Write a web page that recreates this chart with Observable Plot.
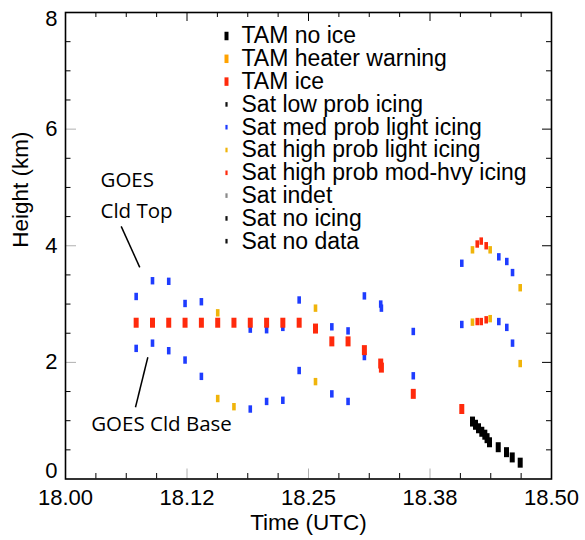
<!DOCTYPE html>
<html>
<head>
<meta charset="utf-8">
<script src="https://cdn.jsdelivr.net/npm/d3@7"></script>
<script src="https://cdn.jsdelivr.net/npm/@observablehq/plot@0.6"></script>
<style>
  html, body { margin: 0; padding: 0; background: #fff; }
  #chart svg { display: block; }
</style>
</head>
<body>
<div id="chart"></div>
<script>
// ---------- Data ----------
// TAM (aircraft) observations: time (UTC hours), height (km), state
const tamTime = [18.0727, 18.0895, 18.1062, 18.1230, 18.1398, 18.1566, 18.1733, 18.1901, 18.2069, 18.2236,
                 18.2404, 18.2572, 18.2740, 18.2907, 18.3075, 18.3243, 18.3250, 18.3578, 18.4077,
                 18.4187, 18.4218, 18.4249, 18.4283, 18.4314, 18.4337, 18.4362, 18.4452, 18.4537, 18.4596, 18.4678];
const tamHeight = [2.68, 2.68, 2.68, 2.68, 2.68, 2.68, 2.68, 2.68, 2.68, 2.68,
                   2.68, 2.58, 2.36, 2.36, 2.21, 1.98, 1.91, 1.46, 1.20,
                   0.985, 0.93, 0.87, 0.81, 0.76, 0.70, 0.63, 0.545, 0.46, 0.37, 0.28];
const tamState = ["ice", "ice", "ice", "ice", "ice", "ice", "ice", "ice", "ice", "ice",
                  "ice", "ice", "ice", "ice", "ice", "ice", "ice", "ice", "ice",
                  "noice", "noice", "noice", "noice", "noice", "noice", "noice", "noice", "noice", "noice", "noice"];

// GOES cloud top
const satTopTime = [18.0727, 18.0895, 18.1062, 18.1230, 18.1398, 18.1566, 18.1901, 18.2069, 18.2236, 18.2404,
                    18.2572, 18.2740, 18.2907, 18.3075, 18.3243, 18.3250, 18.3578, 18.4077, 18.4187, 18.4236,
                    18.4277, 18.4328, 18.4369, 18.4458, 18.4540, 18.4599, 18.4678];
const satTopHeight = [3.13, 3.40, 3.39, 3.01, 3.04, 2.85, 2.57, 2.56, 2.60, 3.07,
                      2.93, 2.61, 2.54, 3.14, 3.00, 2.93, 2.53, 3.70, 3.93, 4.03,
                      4.08, 4.00, 3.93, 3.81, 3.73, 3.54, 3.28];
const satTopClass = ["med", "med", "med", "med", "med", "hiLight", "med", "med", "med", "med",
                     "hiLight", "med", "med", "med", "med", "med", "med", "med", "hiLight", "hiMod",
                     "hiMod", "hiMod", "hiLight", "med", "med", "med", "hiLight"];

// GOES cloud base
const satBaseTime = [18.0727, 18.0895, 18.1062, 18.1230, 18.1398, 18.1566, 18.1733, 18.1901, 18.2069, 18.2236,
                     18.2404, 18.2572, 18.2740, 18.2907, 18.3075, 18.3578, 18.4077, 18.4187, 18.4236, 18.4277,
                     18.4328, 18.4369, 18.4458, 18.4540, 18.4599, 18.4678];
const satBaseHeight = [2.24, 2.33, 2.20, 2.04, 1.76, 1.38, 1.24, 1.20, 1.33, 1.35,
                       1.86, 1.67, 1.46, 1.33, 2.10, 1.77, 2.65, 2.69, 2.70, 2.70,
                       2.73, 2.75, 2.70, 2.60, 2.33, 1.98];
const satBaseClass = ["med", "med", "med", "med", "med", "hiLight", "hiLight", "med", "med", "med",
                      "med", "hiLight", "med", "med", "med", "med", "med", "hiLight", "hiMod", "hiMod",
                      "hiMod", "hiLight", "med", "med", "med", "hiLight"];

// Axis ticks and labels
const xMajorTicks = [18.0, 18.125, 18.25, 18.375, 18.5];
const xTickLabels = ["18.00", "18.12", "18.25", "18.38", "18.50"];
const yMajorTicks = [0, 2, 4, 6, 8];
const yTickLabels = ["0", "2", "4", "6", "8"];

// Legend
const legendLabels = ["TAM no ice", "TAM heater warning", "TAM ice", "Sat low prob icing",
  "Sat med prob light icing", "Sat high prob light icing", "Sat high prob mod-hvy icing",
  "Sat indet", "Sat no icing", "Sat no data"];
const legendKeys = ["noice", "heater", "ice", "low", "med", "hiLight", "hiMod", "indet", "none", "nodata"];
const legendGroup = ["tam", "tam", "tam", "sat", "sat", "sat", "sat", "sat", "sat", "sat"];

// ---------- Styles ----------
const colorOf = {
  noice: "#000000", heater: "#FFA200", ice: "#FF2A0C",
  low: "#111111", med: "#1E3CFF", hiLight: "#F0B40A", hiMod: "#FF2A0C",
  indet: "#8A8A8A", none: "#111111", nodata: "#111111"
};
function rectSymbol(w, h) {
  return { draw(ctx) { ctx.rect(-w / 2, -h / 2, w, h); } };
}
const tamSym = rectSymbol(5, 10);
const satSym = rectSymbol(3.6, 7.4);
const tamLegendSym = rectSymbol(4, 8.5);
const satLegendSym = rectSymbol(2.2, 4.6);

const tam = tamTime.map((t, i) => ({t, h: tamHeight[i], c: tamState[i]}));
const satTop = satTopTime.map((t, i) => ({t, h: satTopHeight[i], c: satTopClass[i]}));
const satBase = satBaseTime.map((t, i) => ({t, h: satBaseHeight[i], c: satBaseClass[i]}));

const xMinor = d3.range(1, 16).filter(k => k % 4 !== 0).map(k => 18 + k / 32);
const xMajorInner = xMajorTicks.slice(1, -1);
const yMinor = d3.range(1, 16).filter(k => k % 4 !== 0).map(k => k / 2);
const yMajorInner = yMajorTicks.slice(1, -1);

const F = "'Liberation Sans', Arial, Helvetica, sans-serif";
const A = "'Open Sans', 'Noto Sans', sans-serif";

const legendMarks = legendLabels.flatMap((label, i) => [
  Plot.dot([label], {x: null, y: null, frameAnchor: "top-left", dx: 161, dy: 23.5 + i * 22.8,
    symbol: legendGroup[i] === "tam" ? tamLegendSym : satLegendSym,
    fill: colorOf[legendKeys[i]], stroke: "none"}),
  Plot.text([label], {frameAnchor: "top-left", dx: 176, dy: 23.5 + i * 22.8,
    textAnchor: "start", lineAnchor: "middle", fontSize: 23, fontFamily: F, fill: "black"})
]);

const plot = Plot.plot({
  width: 585, height: 540,
  marginLeft: 65, marginRight: 34, marginTop: 12, marginBottom: 61.5,
  x: {domain: [18, 18.5], axis: null},
  y: {domain: [0, 8], axis: null},
  color: {type: "identity"},
  style: {fontFamily: F, background: "white", color: "black"},
  marks: [
    // inner ticks: bottom / top
    Plot.ruleX(xMinor, {x: d => d, y1: 0, y2: 0, insetBottom: 5.5, stroke: "black", strokeWidth: 1}),
    Plot.ruleX(xMajorInner, {x: d => d, y1: 0, y2: 0, insetBottom: 10, stroke: "#b0b0b0", strokeWidth: 1}),
    Plot.ruleX(xMinor, {x: d => d, y1: 8, y2: 8, insetTop: 5, stroke: "black", strokeWidth: 1}),
    Plot.ruleX(xMajorInner, {x: d => d, y1: 8, y2: 8, insetTop: 9, stroke: "black", strokeWidth: 1}),
    // inner ticks: left / right
    Plot.ruleY(yMinor, {y: d => d, x1: 18, x2: 18, insetLeft: 5.5, stroke: "black", strokeWidth: 1}),
    Plot.ruleY(yMajorInner, {y: d => d, x1: 18, x2: 18, insetLeft: 11, stroke: "#b0b0b0", strokeWidth: 1}),
    Plot.ruleY(yMinor, {y: d => d, x1: 18.5, x2: 18.5, insetRight: 5, stroke: "black", strokeWidth: 1}),
    Plot.ruleY(yMajorInner, {y: d => d, x1: 18.5, x2: 18.5, insetRight: 9, stroke: "black", strokeWidth: 1}),
    Plot.frame({stroke: "black", strokeWidth: 1.6}),

    // tick labels
    Plot.text(xMajorTicks, {x: d => d, text: (d, i) => xTickLabels[i], frameAnchor: "bottom", dy: 19,
      lineAnchor: "middle", fontSize: 22, fontFamily: F, fill: "black"}),
    Plot.text(yMajorInner, {y: d => d, text: (d, i) => yTickLabels[i + 1], frameAnchor: "left", dx: -8,
      textAnchor: "end", fontSize: 22, fontFamily: F, fill: "black"}),
    Plot.text([yMajorTicks[0]], {y: d => d, text: () => yTickLabels[0], frameAnchor: "left", dx: -8, dy: -8,
      textAnchor: "end", fontSize: 22, fontFamily: F, fill: "black"}),
    Plot.text([yMajorTicks[4]], {y: d => d, text: () => yTickLabels[4], frameAnchor: "left", dx: -8, dy: 6,
      textAnchor: "end", fontSize: 22, fontFamily: F, fill: "black"}),
    // axis titles
    Plot.text(["Time (UTC)"], {frameAnchor: "bottom", dy: 44, lineAnchor: "middle", fontSize: 22.5, fontFamily: F, fill: "black"}),
    Plot.text(["Height (km)"], {frameAnchor: "left", dx: -45, dy: 2, rotate: -90, lineAnchor: "middle", fontSize: 22.5, fontFamily: F, fill: "black"}),

    // annotations
    Plot.text(["GOES"], {x: 18.0360, y: 5.12, textAnchor: "start", fontSize: 20.5, fontFamily: A, fill: "black"}),
    Plot.text(["Cld Top"], {x: 18.0360, y: 4.59, textAnchor: "start", fontSize: 20.5, fontFamily: A, fill: "black"}),
    Plot.link([0], {x1: 18.0573, y1: 4.332, x2: 18.0764, y2: 3.630, stroke: "black", strokeWidth: 1.5}),
    Plot.text(["GOES Cld Base"], {x: 18.0264, y: 0.934, textAnchor: "start", fontSize: 20.5, fontFamily: A, fill: "black"}),
    Plot.link([0], {x1: 18.0847, y1: 2.087, x2: 18.0720, y2: 1.230, stroke: "black", strokeWidth: 1.5}),

    // data: satellite first, TAM on top
    Plot.dot(satTop, {x: "t", y: "h", fill: d => colorOf[d.c], stroke: "none", symbol: satSym}),
    Plot.dot(satBase, {x: "t", y: "h", fill: d => colorOf[d.c], stroke: "none", symbol: satSym}),
    Plot.dot(tam, {x: "t", y: "h", fill: d => colorOf[d.c], stroke: "none", symbol: tamSym}),

    ...legendMarks
  ]
});
document.getElementById("chart").appendChild(plot);
</script>
</body>
</html>
